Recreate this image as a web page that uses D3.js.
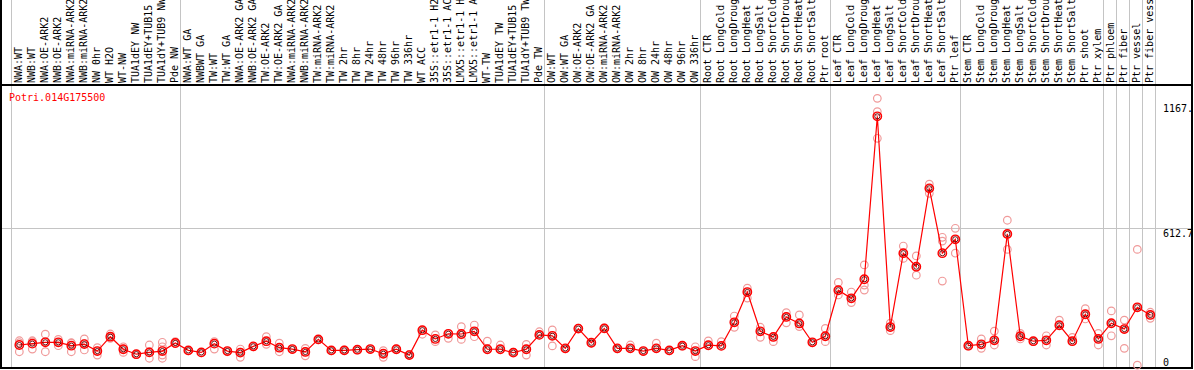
<!DOCTYPE html>
<html><head><meta charset="utf-8">
<script src="https://cdn.jsdelivr.net/npm/d3@7/dist/d3.min.js"></script>
<style>
html,body{margin:0;padding:0;background:#fff;overflow:hidden}
svg{display:block}
text{font-family:"DejaVu Sans Mono",monospace;font-size:10px}
</style></head>
<body>
<svg id="c" width="1194" height="370"></svg>
<script>
const geneName = "Potri.014G175500";
const categories = [
"NWA:WT","NWB:WT","NWA:OE-ARK2","NWB:OE-ARK2","NWA:miRNA-ARK2","NWB:miRNA-ARK2","NW 0hr","WT H2O","WT-NW","TUA1dEY NW","TUA1dEY+TUB15 NW","TUA1dY+TUB9 NW","Pde NW",
"NWA:WT GA","NWBWT GA","TW:WT","TW:WT GA","NWA:OE-ARK2 GA","NWB:OE-ARK2 GA","TW:OE-ARK2","TW:OE-ARK2 GA","NWA:miRNA-ARK2 GA","NWB:miRNA-ARK2 GA","TW:miRNA-ARK2","TW:miRNA-ARK2 GA","TW 2hr","TW 8hr","TW 24hr","TW 48hr","TW 96hr","TW 336hr","WT ACC","35S::etr1-1 H2O","35S::etr1-1 ACC","LMX5::etr1-1 H2O","LMX5::etr1-1 ACC","WT-TW","TUA1dEY TW","TUA1dEY+TUB15 TW","TUA1dY+TUB9 TW","Pde TW",
"OW:WT","OW:WT GA","OW:OE-ARK2","OW:OE-ARK2 GA","OW:miRNA-ARK2","OW:miRNA-ARK2 GA","OW 2hr","OW 8hr","OW 24hr","OW 48hr","OW 96hr","OW 336hr",
"Root CTR","Root LongCold","Root LongDrought","Root LongHeat","Root LongSalt","Root ShortCold","Root ShortDrought","Root ShortHeat","Root ShortSalt","Ptr root",
"Leaf CTR","Leaf LongCold","Leaf LongDrought","Leaf LongHeat","Leaf LongSalt","Leaf ShortCold","Leaf ShortDrought","Leaf ShortHeat","Leaf ShortSalt","Ptr leaf",
"Stem CTR","Stem LongCold","Stem LongDrought","Stem LongHeat","Stem LongSalt","Stem ShortCold","Stem ShortDrought","Stem ShortHeat","Stem ShortSalt","Ptr shoot","Ptr xylem",
"Ptr phloem","Ptr fiber","Ptr vessel","Ptr fiber vessel"
];
const groupStarts = [0,13,41,53,63,73,84,85,86,87,88];
const meanValues = [
90,96,102,102,87,94,63,127,71,49,
57,63,99,66,57,96,63,56,84,107,
78,72,59,115,66,66,69,72,51,71,
45,156,117,140,139,151,71,71,56,71,
135,131,75,163,100,164,75,75,63,75,
66,87,63,89,86,191,326,151,126,215,
186,102,129,334,298,383,1109,170,499,439,
788,499,561,87,93,111,585,129,107,111,
178,107,227,117,187,161,258,224];
const replicateValues = [
[109,60,100],[109,72,105],[138,60,105],[115,87,102],[100,60,98],[117,68,96],[78,45,63],[139,127,120],[82,57,72],[49,47],
[90,31,60],[102,82,45,31],[105,96],[66,64],[57,55],[105,72],[63,60],[72,35,58],[84,82],[127,93,105],
[98,60,78],[72,70],[75,42,60],[115,113],[66,64],[66,68],[69,67],[72,70],[65,35,52],[71,73],
[45,48],[156,138],[135,105],[140,120],[172,115,135],[179,127,150],[107,71],[90,71],[56,58],[93,45,71],
[149,135],[157,86,131],[75,73],[163,165],[100,98],[164,166],[75,73],[90,75],[63,61],[98,75],
[66,64],[87,85],[82,38,63],[108,89],[105,86],[219,169,191],[343,299,326],[169,124,151],[105,126],[234,189,215],
[224,172,186],[102,100],[164,105,129],[369,313,334],[326,279,298],[447,357,335],[1189,1130,1011],[187,154,170],[531,476,499],[487,401,439],
[807,766,788],[570,375,553],[610,499,561],[87,85],[117,75,93],[152,90,111],[646,516,585],[142,117,129],[107,105],[131,90,111],
[201,178],[124,107],[252,206,227],[142,90,117],[242,131,187],[201,75,161],[516,0,258],[236,209,224]
];
const tickValues = [1167, 612.7, 0];
const tickLabels = ["1167.", "612.7", "0"];
const gridValues = [612.7];
const yMax = 1225.4;

const svg = d3.select("#c");
const W = 1194, H = 370;
const plotTop = 85, plotBottom = 368, leftEdge = 1, rightEdge = 1192;
const x = d3.scaleLinear().domain([0, categories.length]).range([11, 1155]);
const y = d3.scaleLinear().domain([0, yMax]).range([365.2, 90.2]);
const px = i => x(i + 0.64);

// group separators (full height)
svg.append("g").selectAll("line").data(groupStarts).join("line")
  .attr("x1", d => x(d) + 0.5).attr("x2", d => x(d) + 0.5)
  .attr("y1", 0).attr("y2", plotBottom)
  .attr("stroke", "#c4c4c4").attr("stroke-width", 1);

// horizontal grid
svg.append("g").selectAll("line").data(gridValues).join("line")
  .attr("x1", leftEdge).attr("x2", rightEdge)
  .attr("y1", d => Math.round(y(d)) + 0.5).attr("y2", d => Math.round(y(d)) + 0.5)
  .attr("stroke", "#c4c4c4").attr("stroke-width", 1);

// borders
const bg = svg.append("g").attr("stroke", "#000").attr("stroke-width", 2);
bg.append("line").attr("x1", leftEdge).attr("x2", leftEdge).attr("y1", 0).attr("y2", plotBottom + 1);
bg.append("line").attr("x1", rightEdge).attr("x2", rightEdge).attr("y1", 0).attr("y2", plotBottom + 1);
bg.append("line").attr("x1", leftEdge).attr("x2", rightEdge).attr("y1", plotTop).attr("y2", plotTop);
bg.append("line").attr("x1", leftEdge).attr("x2", rightEdge).attr("y1", plotBottom).attr("y2", plotBottom);

// category labels
svg.append("g").selectAll("text").data(categories).join("text")
  .attr("transform", (d, i) => `translate(${x(i) + 10.5},83) rotate(-90)`)
  .attr("fill", "#000")
  .text(d => d);

// title
svg.append("text").attr("x", 9).attr("y", 101).attr("fill", "red").text(geneName);

// right axis labels
svg.append("g").selectAll("text").data(tickValues).join("text")
  .attr("x", 1163)
  .attr("y", d => Math.min(y(d) + 9, 366))
  .attr("fill", "#000")
  .text((d, i) => tickLabels[i]);

// replicates
const reps = [];
replicateValues.forEach((arr, i) => arr.forEach(v => reps.push({i, v})));
svg.append("g").selectAll("circle").data(reps).join("circle")
  .attr("cx", d => px(d.i)).attr("cy", d => y(d.v)).attr("r", 3.8)
  .attr("fill", "none").attr("stroke", "#f09a9a").attr("stroke-width", 1.2);

// mean line
svg.append("path").datum(meanValues)
  .attr("d", d3.line().x((d, i) => px(i)).y(d => y(d)))
  .attr("fill", "none").attr("stroke", "red").attr("stroke-width", 1.2);

// means
const mg = svg.append("g").selectAll("g").data(meanValues).join("g")
  .attr("transform", (d, i) => `translate(${px(i)},${y(d)})`);
mg.append("circle").attr("r", 4.2).attr("fill", "none").attr("stroke", "red").attr("stroke-width", 1.4);
mg.append("circle").attr("r", 2.6).attr("fill", "none").attr("stroke", "#5a0000").attr("stroke-width", 0.9);
</script>
</body></html>
